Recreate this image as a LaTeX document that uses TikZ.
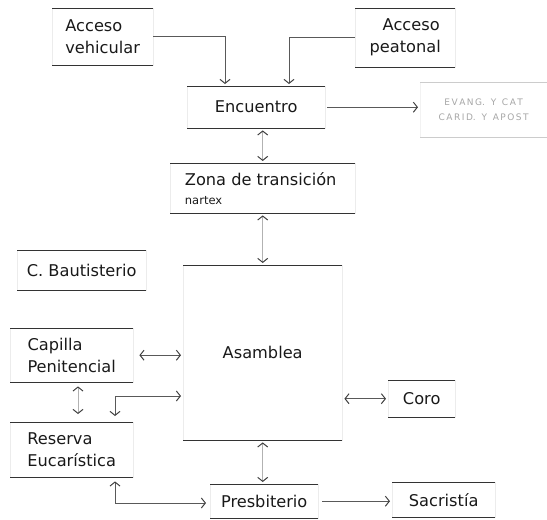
\documentclass[tikz,border=0pt]{standalone}
\usepackage{fontspec}
\setmainfont{DejaVu Sans}
\usetikzlibrary{arrows.meta,calc}
\begin{document}
\begin{tikzpicture}[x=1pt,y=-1pt,
  boxx/.style={draw=gray!15, line width=0.4pt, anchor=north west, inner sep=0pt,
    font=\fontsize{16.2}{22}\selectfont, text=black!90},
  edge/.style={draw=black!80, line width=1pt},
  conn/.style={draw=black!65, line width=0.7pt, shorten <=2pt, shorten >=2pt},
  faint/.style={draw=black!30},
  >={Straight Barb[length=4pt,width=10pt,line width=1pt,color=black!75]}]
\useasboundingbox (0,0) rectangle (547,520);
% boxes
\node[boxx, minimum width=101, minimum height=57, align=left] (av) at (52,8) {Acceso\\vehicular};
\node[boxx, minimum width=100, minimum height=59, align=center] (ap) at (355,8) {\hspace*{12pt}Acceso\\peatonal};
\node[boxx, minimum width=138, minimum height=42] (enc) at (187,86) {Encuentro};
\node[boxx, draw=gray!10, minimum width=127, minimum height=55, align=center,
      font=\fontsize{9}{15}\selectfont, text=gray!70] (ev) at (420,82)
      {E\,V\,A\,N\,G.\ \ Y\ \ C\,A\,T\\C\,A\,R\,I\,D.\ \ Y\ \ A\,P\,O\,S\,T};
\node[boxx, minimum width=185, minimum height=50, align=left] (zt) at (170,163)
  {Zona de transición\hspace*{4pt}\\[-3pt]{\fontsize{11.5}{13}\selectfont nartex}};
\node[boxx, minimum width=159, minimum height=175] (as) at (183,265) {Asamblea};
\node[boxx, minimum width=129, minimum height=40] (cb) at (17,250) {C. Bautisterio};
\node[boxx, minimum width=123, minimum height=54, align=left] (cp) at (10,328) {Capilla\\Penitencial};
\node[boxx, minimum width=123, minimum height=55, align=left] (re) at (10,422) {Reserva\\Eucarística};
\node[boxx, minimum width=67, minimum height=37] (co) at (388,380) {Coro};
\node[boxx, minimum width=108, minimum height=34] (pr) at (210,484) {Presbiterio};
\node[boxx, minimum width=103, minimum height=35] (sa) at (392,482) {Sacristía};
% top and bottom rules
\foreach \n in {av,ap,enc,zt,as,cb,cp,re,co,pr,sa}{
  \draw[edge] (\n.north west) -- (\n.north east);
  \draw[edge] (\n.south west) -- (\n.south east);
}
\draw[draw=gray!40, line width=1pt] (ev.north west) -- (ev.north east);
\draw[draw=gray!40, line width=1pt] (ev.south west) -- (ev.south east);
% connector end points
\coordinate (e1) at ($(enc.north west)+(38,0)$);
\coordinate (e2) at ($(enc.north west)+(102,0)$);
\coordinate (r1) at ($(re.north west)+(105,0)$);
\coordinate (r2) at ($(re.south west)+(105,0)$);
\coordinate (c1) at ($(cp.south west)+(68,0)$);
\coordinate (r3) at ($(re.north west)+(68,0)$);
\coordinate (a1) at ($(as.north west)+(0,131)$);
\coordinate (p1) at ($(pr.north west)+(0,19)$);
% connectors
\draw[conn, shorten <=0pt, ->] (av.east) -| (e1);
\draw[conn, shorten <=0pt, ->] (ap.west) -| (e2);
\draw[conn, ->] (enc.east) -- (enc.east -| ev.west);
\draw[conn, faint, <->] (zt.north |- enc.south) -- (zt.north);
\draw[conn, faint, <->] (zt.south) -- (as.north);
\draw[conn, <->, shorten <=6pt] (cp.east) -- (cp.east -| as.west);
\draw[conn, <->, shorten <=6pt] (r1) |- (a1);
\draw[conn, faint, <->, shorten <=4pt, shorten >=8pt] (c1) -- (r3);
\draw[conn, <->, shorten <=4pt, shorten >=4pt] (r2) |- (p1);
\draw[conn, faint, <->] (as.south) -- (as.south |- pr.north);
\draw[conn, ->, shorten <=4pt] (pr.east) -- (pr.east -| sa.west);
\draw[conn, <->] (as.east |- co.west) -- (co.west);
\end{tikzpicture}
\end{document}
